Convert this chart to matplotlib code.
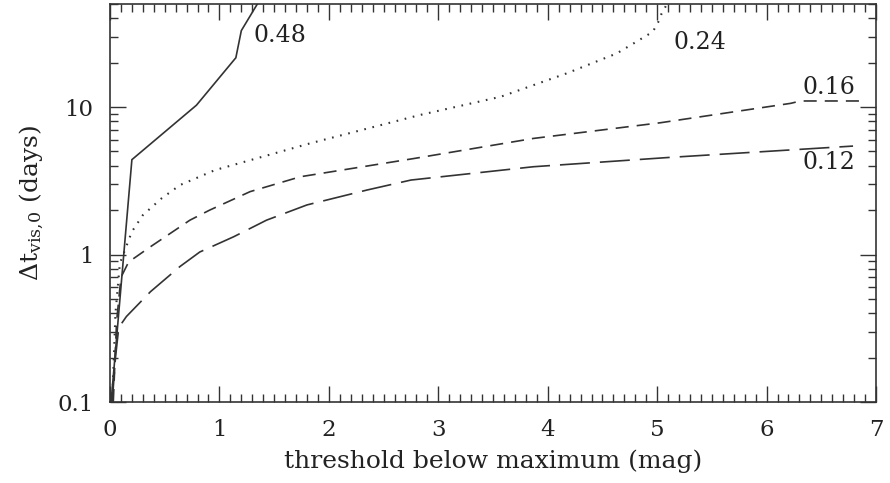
import matplotlib
matplotlib.use("Agg")
import matplotlib.pyplot as plt
from matplotlib.ticker import MultipleLocator, FixedLocator, LogLocator, NullFormatter, FixedFormatter

plt.rcParams['font.family'] = ['DejaVu Serif']
plt.rcParams['mathtext.fontset'] = 'dejavuserif'
plt.rcParams['lines.scale_dashes'] = False

# Data
x48 = [0.01, 0.20, 0.79, 1.15, 1.20, 1.36]
y48 = [0.10, 4.4, 10.3, 21.6, 33.0, 52.0]

x24 = [0.02, 0.05, 0.09, 0.20, 0.30, 0.47, 0.64, 0.96, 1.83, 2.83, 3.57, 4.17, 4.63, 4.78, 4.96, 5.02, 5.04, 5.09]
y24 = [0.10, 0.40, 0.87, 1.43, 1.85, 2.40, 2.96, 3.74, 5.68, 8.83, 11.75, 16.9, 23.1, 26.9, 32.4, 38.9, 43.0, 50.0]

x16 = [0.03, 0.06, 0.10, 0.17, 0.37, 0.55, 0.73, 0.91, 1.28, 1.74, 2.77, 3.87, 5.03, 6.22, 6.31, 6.86]
y16 = [0.10, 0.35, 0.70, 0.89, 1.13, 1.39, 1.71, 2.0, 2.67, 3.37, 4.47, 6.13, 7.83, 10.6, 11.0, 11.0]

x12 = [0.02, 0.05, 0.08, 0.15, 0.37, 0.64, 0.82, 1.13, 1.43, 1.80, 2.35, 2.75, 3.87, 5.10, 6.79]
y12 = [0.10, 0.20, 0.32, 0.38, 0.56, 0.83, 1.04, 1.32, 1.71, 2.17, 2.74, 3.2, 3.94, 4.55, 5.44]

labels = ["0.48", "0.24", "0.16", "0.12"]
label_x = [1.55, 5.39, 6.57, 6.57]
label_y = [30.7, 27.2, 13.5, 4.24]

xticks = [0, 1, 2, 3, 4, 5, 6, 7]
yticks = [0.1, 1, 10]
yticklabels = ["0.1", "1", "10"]

fig = plt.figure(figsize=(8.9, 4.83), dpi=100)
ax = fig.add_axes([0.1236, 0.1677, 0.8607, 0.824])

col = '#333333'
lw = 1.2
ax.plot(x48, y48, color=col, lw=lw, solid_joinstyle='miter')
ax.plot(x24, y24, color=col, lw=1.5, dashes=(1.2, 4.8), dash_capstyle='butt')
ax.plot(x16, y16, color=col, lw=lw, dashes=(9.4, 5.8))
ax.plot(x12, y12, color=col, lw=lw, dashes=(21.6, 7.2))

for t, lx, ly in zip(labels, label_x, label_y):
    ax.text(lx, ly, t, ha='center', va='center', fontsize=17, color='#222222')

ax.set_xscale('linear')
ax.set_yscale('log')
ax.set_xlim(0, 7)
ax.set_ylim(0.1, 50)

ax.xaxis.set_major_locator(FixedLocator(xticks))
ax.xaxis.set_minor_locator(MultipleLocator(0.1))
ax.yaxis.set_major_locator(FixedLocator(yticks))
ax.yaxis.set_major_formatter(FixedFormatter(yticklabels))
ax.yaxis.set_minor_locator(LogLocator(base=10, subs=[2, 3, 4, 5, 6, 7, 8, 9]))
ax.yaxis.set_minor_formatter(NullFormatter())

ax.tick_params(which='both', direction='in', top=True, right=True, colors='#333333', labelcolor='#222222')
ax.tick_params(which='major', length=11.5, width=1.0, labelsize=16.5, pad=12)
ax.tick_params(which='minor', length=5.5, width=1.0)
for s in ax.spines.values():
    s.set_color('#333333')
    s.set_linewidth(1.2)

ax.set_xlabel('threshold below maximum (mag)', fontsize=18, color='#222222', labelpad=6)
ax.set_ylabel(r'$\Delta\mathrm{t}_{\mathrm{vis,\!0}}$ (days)', fontsize=18, color='#222222', labelpad=8)

fig.savefig('out.png', dpi=100)
